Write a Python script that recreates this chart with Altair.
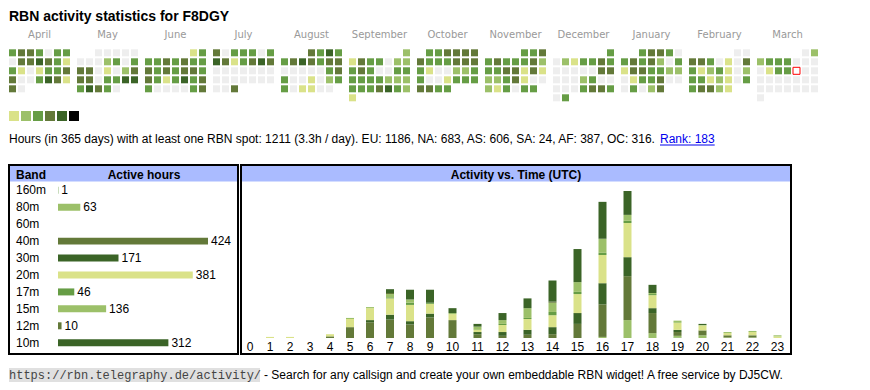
import datetime as dt
import altair as alt
import pandas as pd

# ---------------- data ----------------
TITLE = "RBN activity statistics for F8DGY"
MONTHS = ["April", "May", "June", "July", "August", "September",
          "October", "November", "December", "January", "February", "March"]
MONTH_YEAR = [2024] * 9 + [2025] * 3
MONTH_NUM = [4, 5, 6, 7, 8, 9, 10, 11, 12, 1, 2, 3]
# activity level of every day (g=none, y, l, m, o, d = level 1..5)
DAY_LEVELS = [
    "moomgmm" "goodomy" "mygymmo" "oggmdoy" "og",
    "ggggg" "ggglmgm" "oogyglo" "oogmmdd" "mdomg",
    "ym" "mmomomm" "omomoom" "omymdmo" "mggggmo",
    "ogmmmgm" "doymodo" "ggggggg" "ggggggg" "ggo",
    "omdm" "modomoo" "gggggmo" "mggyglm" "mgyygg",
    "l" "yommgll" "momggmm" "mmmmlll" "mmmodml" "y",
    "mmoooo" "ommmooo" "myggllm" "mggymmm" "oomm",
    "mmo" "mommmol" "mmooyoy" "llmoygg" "lymgmm",
    "m" "glymmom" "gggggoo" "ggglmgg" "gggmoom" "gm",
    "moomg" "momolgm" "yoommll" "gymmogg" "gmglo",
    "gg" "oomgygo" "mylmygl" "mmylygm" "mooly",
    "gl" "lmmmggg" "gymmggg" "ggggggg" "ggggggg" "g",
]
LEVEL_CODE = "gylmod"
LEVEL_COLORS = ["#eeeeee", "#dae289", "#9cc069", "#669d45", "#637939", "#3b6427", "#000000"]
LEGEND_LEVELS = [1, 2, 3, 4, 5, 6]
TODAY = "2025-03-14"

INFO_TEXT = ("Hours (in 365 days) with at least one RBN spot: 1211 (3.3h / day). "
             "EU: 1186, NA: 683, AS: 606, SA: 24, AF: 387, OC: 316.")
RANK_TEXT = "Rank: 183"
FOOTER_URL = "https://rbn.telegraphy.de/activity/"
FOOTER_TEXT = "- Search for any callsign and create your own embeddable RBN widget! A free service by DJ5CW."

BANDS = ["160m", "80m", "60m", "40m", "30m", "20m", "17m", "15m", "12m", "10m"]
BAND_HOURS = [1, 63, 0, 424, 171, 381, 46, 136, 10, 312]
BAND_COLORS = ["#669d45", "#9cc069", "#669d45", "#637939", "#3b6427",
               "#dae289", "#669d45", "#9cc069", "#637939", "#3b6427"]

HOURS = list(range(24))
HOURLY = {  # active hours per band for each UTC hour 0..23
    "160m": [0, 0, 0, 0, 0, 0, 0, 0, 0, 0, 0, 0, 0, 0, 0, 0, 0, 0, 0, 1, 0, 0, 0, 0],
    "80m":  [0, 0, 0, 0, 0, 0, 0, 0, 0, 0, 0, 0, 0, 0, 0, 0, 2, 33, 9, 3, 5, 1, 1, 0],
    "60m":  [0] * 24,
    "40m":  [0, 0, 0, 0, 3, 20, 29, 34, 25, 38, 33, 7, 4, 6, 7, 26, 60, 81, 37, 7, 9, 4, 4, 0],
    "30m":  [0, 0, 0, 0, 0, 0, 4, 9, 6, 7, 0, 4, 7, 9, 13, 20, 39, 35, 9, 4, 0, 0, 0, 0],
    "20m":  [0, 2, 2, 0, 4, 15, 22, 30, 30, 18, 11, 4, 13, 20, 22, 35, 52, 63, 24, 13, 9, 4, 6, 3],
    "17m":  [0, 0, 0, 0, 0, 0, 0, 2, 4, 2, 0, 0, 2, 2, 6, 4, 4, 4, 2, 0, 0, 0, 0, 0],
    "15m":  [0, 0, 0, 0, 0, 2, 2, 6, 6, 0, 2, 6, 7, 18, 17, 18, 26, 11, 2, 4, 1, 2, 2, 2],
    "12m":  [0, 0, 0, 0, 0, 0, 0, 2, 0, 0, 0, 0, 0, 0, 2, 0, 0, 0, 0, 0, 0, 0, 0, 0],
    "10m":  [0, 0, 0, 0, 0, 0, 0, 7, 18, 24, 9, 5, 13, 18, 39, 61, 68, 44, 15, 0, 2, 0, 0, 0],
}

# ---------------- tables ----------------
cal_rows = []
for name, yy, mm, lv in zip(MONTHS, MONTH_YEAR, MONTH_NUM, DAY_LEVELS):
    first = dt.date(yy, mm, 1).weekday()
    for d, code in enumerate(lv):
        k = d + first
        cal_rows.append({"month": name, "dow": k % 7, "week": k // 7,
                         "level": LEVEL_CODE.index(code),
                         "date": dt.date(yy, mm, d + 1).isoformat()})
cal_df = pd.DataFrame(cal_rows)
month_df = pd.DataFrame({"month": MONTHS})
legend_df = pd.DataFrame({"level": LEGEND_LEVELS})
band_df = pd.DataFrame({"band": BANDS, "hours": BAND_HOURS})
act_df = pd.DataFrame([{"hour": h, "band": b, "bidx": i, "count": HOURLY[b][h]}
                       for i, b in enumerate(BANDS) for h in HOURS])
hour_df = pd.DataFrame({"hour": HOURS})
one = pd.DataFrame({"k": [0]})

FONT = "Liberation Sans"
color_level = alt.Color("level:O", scale=alt.Scale(domain=list(range(7)), range=LEVEL_COLORS), legend=None)
color_band = alt.Color("band:N", scale=alt.Scale(domain=BANDS, range=BAND_COLORS), legend=None)

# ---------------- top: title, calendar, legend, info ----------------
x_month = alt.X("month:N", scale=alt.Scale(domain=MONTHS, paddingInner=7 / 68, paddingOuter=0), axis=None)
x_dow = alt.XOffset("dow:O", scale=alt.Scale(domain=list(range(7)), paddingInner=2 / 9, paddingOuter=0))
y_week = alt.Y("week:O", scale=alt.Scale(domain=list(range(6)), range=[41.3, 93.3],
                                         paddingInner=2 / 9, paddingOuter=0), axis=None)

cells = alt.Chart(cal_df).mark_rect().encode(x=x_month, xOffset=x_dow, y=y_week, color=color_level)
today = alt.Chart(cal_df).transform_filter(alt.datum.date == TODAY).mark_rect(
    fill="white", stroke="#ff0000", strokeWidth=1).encode(x=x_month, xOffset=x_dow, y=y_week)
month_labels = alt.Chart(month_df).mark_text(
    font="DejaVu Sans", fontSize=10, color="#999999", baseline="alphabetic").encode(
    x=x_month, y=alt.value(30.3), text="month:N")
calendar = alt.layer(cells, today, month_labels)

legend = alt.Chart(legend_df).mark_rect().encode(
    x=alt.X("level:O", scale=alt.Scale(domain=LEGEND_LEVELS, range=[0, 70],
                                       paddingInner=2 / 12, paddingOuter=0), axis=None),
    y=alt.value(103), y2=alt.value(113), color=color_level)

title = alt.Chart(one).mark_text(
    font=FONT, fontSize=14, fontWeight="bold", align="left", baseline="alphabetic", color="black").encode(
    x=alt.value(0), y=alt.value(12.7), text=alt.value(TITLE))
info = alt.Chart(one).mark_text(
    font=FONT, fontSize=12, align="left", baseline="alphabetic", color="black").encode(
    x=alt.value(0), y=alt.value(135.3), text=alt.value(INFO_TEXT))
rank = alt.Chart(one).mark_text(
    font=FONT, fontSize=12, align="left", baseline="alphabetic", color="#0000ee").encode(
    x=alt.value(651), y=alt.value(135.3), text=alt.value(RANK_TEXT))
rank_ul = alt.Chart(one).mark_rule(color="#0000ee", strokeWidth=1).encode(
    x=alt.value(651), x2=alt.value(705.7), y=alt.value(137))

top = alt.layer(calendar, legend, title, info, rank, rank_ul).resolve_scale(
    x="independent", y="independent").properties(width=809, height=156)

# ---------------- band table ----------------
HDR = "#aabbff"
y_band = alt.Y("band:N", scale=alt.Scale(domain=BANDS, range=[16.85, 186.2],
                                         paddingInner=0.587, paddingOuter=0.2935), axis=None)
x_hours = alt.X("hours:Q", scale=alt.Scale(nice=False, zero=True, range=[49, 199], padding=0), axis=None)
band_hdr = alt.Chart(one).mark_rect(color=HDR).encode(
    x=alt.value(1), x2=alt.value(228), y=alt.value(1), y2=alt.value(16.5))
band_h1 = alt.Chart(one).mark_text(font=FONT, fontSize=12, fontWeight="bold", align="left",
                                   baseline="middle", color="black").encode(
    x=alt.value(7), y=alt.value(9.5), text=alt.value("Band"))
band_h2 = alt.Chart(one).mark_text(font=FONT, fontSize=12, fontWeight="bold", align="center",
                                   baseline="middle", color="black").encode(
    x=alt.value(135), y=alt.value(9.5), text=alt.value("Active hours"))
band_names = alt.Chart(band_df).mark_text(font=FONT, fontSize=12, align="left",
                                          baseline="middle", color="black").encode(
    x=alt.value(7), y=y_band, text="band:N")
band_bars = alt.Chart(band_df).transform_filter(alt.datum.hours > 0).mark_bar().encode(
    x=x_hours, y=y_band, color=color_band)
band_vals = alt.Chart(band_df).transform_filter(alt.datum.hours > 0).mark_text(
    font=FONT, fontSize=12, align="left", baseline="middle", dx=3, color="black").encode(
    x=x_hours, y=y_band, text="hours:Q")
band_panel = alt.layer(band_hdr, band_h1, band_h2, band_names, band_bars, band_vals).properties(
    width=229, height=189, view=alt.ViewConfig(stroke="black", strokeWidth=2))

# ---------------- activity vs time ----------------
# HTML-table-like columns: 20px for one-digit hours, 25px for two-digit hours
SLOT = "datum.hour < 10 ? datum.hour * 20 + 10 : datum.hour * 25 - 37.5"
x_slot = alt.X("slot:Q", scale=alt.Scale(domain=[0, 550], range=[-1, 549], nice=False, padding=0), axis=None)
act_hdr = alt.Chart(one).mark_rect(color=HDR).encode(
    x=alt.value(1), x2=alt.value(549), y=alt.value(1), y2=alt.value(16.5))
act_title = alt.Chart(one).mark_text(font=FONT, fontSize=12, fontWeight="bold", align="center",
                                     baseline="middle", color="black").encode(
    x=alt.value(275), y=alt.value(9.5), text=alt.value("Activity vs. Time (UTC)"))
act_bars = alt.Chart(act_df).transform_filter(alt.datum.count > 0).transform_calculate(
    slot=SLOT).mark_bar(size=8, orient="vertical").encode(
    x=x_slot,
    y=alt.Y("count:Q", stack="zero", scale=alt.Scale(nice=False, zero=True, range=[173, 26]), axis=None),
    color=color_band,
    order=alt.Order("bidx:Q", sort="ascending"))
act_labels = alt.Chart(hour_df).transform_calculate(slot=SLOT).mark_text(
    font=FONT, fontSize=12, align="center", baseline="middle", color="black").encode(
    x=x_slot, y=alt.value(182), text="hour:N")
act_panel = alt.layer(act_hdr, act_title, act_bars, act_labels).properties(
    width=550, height=189, view=alt.ViewConfig(stroke="black", strokeWidth=2))

# ---------------- footer ----------------
foot_bg = alt.Chart(one).mark_rect(color="#e0e0e0").encode(
    x=alt.value(0), x2=alt.value(251), y=alt.value(13), y2=alt.value(27))
foot_url = alt.Chart(one).mark_text(font="Liberation Mono", fontSize=12, align="left",
                                    baseline="alphabetic", color="#444444").encode(
    x=alt.value(0), y=alt.value(24), text=alt.value(FOOTER_URL))
foot_txt = alt.Chart(one).mark_text(font=FONT, fontSize=12, align="left",
                                    baseline="alphabetic", color="black").encode(
    x=alt.value(255), y=alt.value(24), text=alt.value(FOOTER_TEXT))
footer = alt.layer(foot_bg, foot_url, foot_txt).properties(width=800, height=32)

panels = alt.hconcat(band_panel, act_panel, spacing=1).resolve_scale(color="independent")

chart = alt.vconcat(
    top,
    panels,
    footer,
    spacing=0,
).resolve_scale(color="independent").properties(
    padding=0, background="white").configure_view(stroke="transparent", strokeWidth=0)

chart.save("out.html", embed_options={"renderer": "svg", "actions": False})
